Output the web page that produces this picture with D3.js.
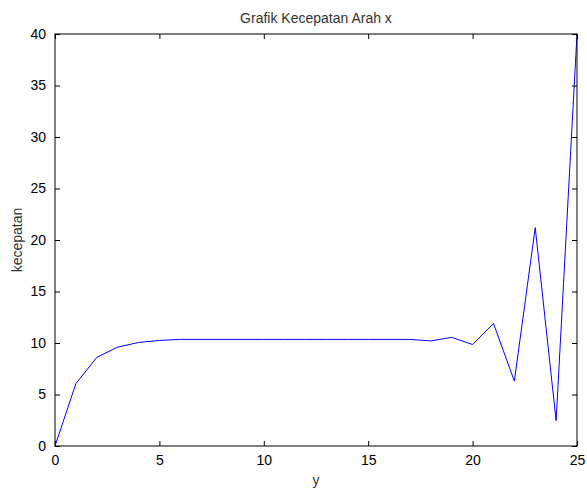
<!DOCTYPE html>
<html><head><meta charset="utf-8">
<script src="https://cdn.jsdelivr.net/npm/d3@7"></script>
<style>body{margin:0;background:#fff;}svg{display:block;font-family:"Liberation Sans",Arial,sans-serif;}</style>
</head><body>
<svg id="c" width="587" height="489"></svg>
<script>
const xValues = [0,1,2,3,4,5,6,7,8,9,10,11,12,13,14,15,16,17,18,19,20,21,22,23,24,25];
const speedValues = [0,6.05,8.6,9.6,10.05,10.25,10.35,10.35,10.35,10.35,10.35,10.35,10.35,10.35,10.35,10.35,10.35,10.35,10.2,10.55,9.85,11.9,6.3,21.2,2.45,40];
const xTicks = [0,5,10,15,20,25];
const yTicks = [0,5,10,15,20,25,30,35,40];
const titleText = "Grafik Kecepatan Arah x";
const xLabel = "y";
const yLabel = "kecepatan";

const svg = d3.select("#c");
const L=55, R=577, T=34, B=446;
const x = d3.scaleLinear().domain([0,25]).range([L,R]);
const y = d3.scaleLinear().domain([0,40]).range([B,T]);

svg.append("rect").attr("x",L).attr("y",T).attr("width",R-L).attr("height",B-T).attr("fill","#fff");

const line = d3.line().x((d,i)=>x(xValues[i])).y(d=>y(d));
svg.append("path").datum(speedValues).attr("d",line).attr("fill","none").attr("stroke","#0000ff").attr("stroke-width",1);

function styleAxis(g){
  g.selectAll(".domain").remove();
  g.selectAll("line").attr("stroke","#000");
  g.selectAll("text").attr("fill","#000").style("font-size","14px").style("font-family","'Liberation Sans',Arial,sans-serif");
}
const ax = svg.append("g").attr("transform",`translate(0,${B})`).call(d3.axisBottom(x).tickValues(xTicks).tickSize(-5).tickPadding(9).tickFormat(d3.format("d")));
styleAxis(ax);
const axT = svg.append("g").attr("transform",`translate(0,${T})`).call(d3.axisTop(x).tickValues(xTicks).tickSize(-5).tickFormat(""));
styleAxis(axT);
const ay = svg.append("g").attr("transform",`translate(${L},0)`).call(d3.axisLeft(y).tickValues(yTicks).tickSize(-5).tickPadding(9).tickFormat(d3.format("d")));
styleAxis(ay);
const ayR = svg.append("g").attr("transform",`translate(${R},0)`).call(d3.axisRight(y).tickValues(yTicks).tickSize(-5).tickFormat(""));
styleAxis(ayR);

svg.append("rect").attr("x",L).attr("y",T).attr("width",R-L).attr("height",B-T).attr("fill","none").attr("stroke","#000").attr("stroke-width",1);

svg.append("text").attr("x",(L+R)/2).attr("y",23).attr("text-anchor","middle").style("font-size","14px").attr("fill","#333").text(titleText);
svg.append("text").attr("x",(L+R)/2).attr("y",485).attr("text-anchor","middle").style("font-size","14px").attr("fill","#333").text(xLabel);
svg.append("text").attr("transform",`translate(22,${(T+B)/2}) rotate(-90)`).attr("text-anchor","middle").style("font-size","14px").attr("fill","#333").text(yLabel);
</script>
</body></html>
